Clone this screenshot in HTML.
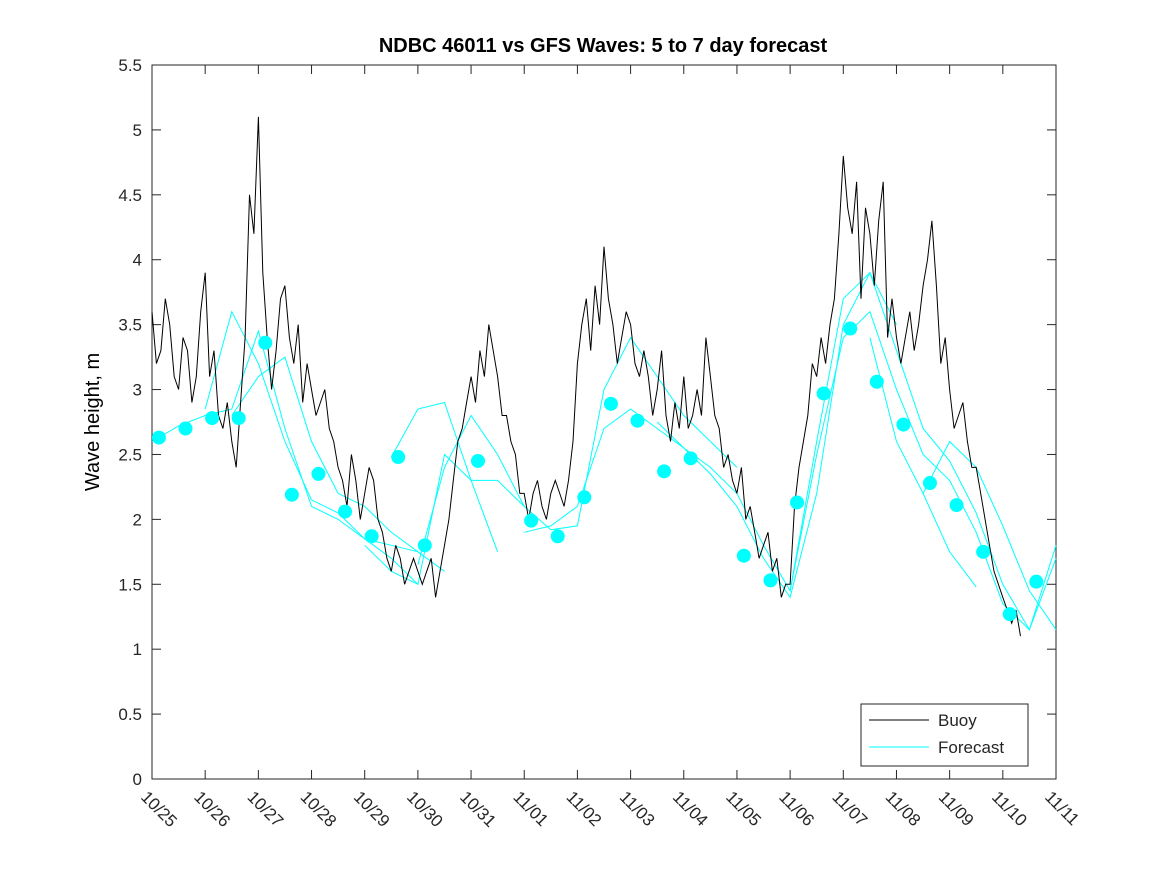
<!DOCTYPE html>
<html><head><meta charset="utf-8">
<style>
html,body{margin:0;padding:0;background:#fff;}
svg{display:block;font-family:"Liberation Sans",sans-serif;}
</style></head>
<body>
<svg id="chart" width="1167" height="875">
<rect x="0" y="0" width="1167" height="875" fill="#fff"/>
<text x="603" y="52" text-anchor="middle" font-size="20" font-weight="bold">NDBC 46011 vs GFS Waves: 5 to 7 day forecast</text>
<text transform="translate(99,422) rotate(-90)" text-anchor="middle" font-size="20">Wave height, m</text>
<g id="plot"></g>
</svg>
<script>
const xLabels=["10/25","10/26","10/27","10/28","10/29","10/30","10/31","11/01","11/02","11/03","11/04","11/05","11/06","11/07","11/08","11/09","11/10","11/11"];
const yTicks=[0,0.5,1,1.5,2,2.5,3,3.5,4,4.5,5,5.5];
const buoyStep=1/12;
const buoy=[3.6,3.2,3.3,3.7,3.5,3.1,3.0,3.4,3.3,2.9,3.1,3.6,3.9,3.1,3.3,2.8,2.7,2.9,2.6,2.4,2.9,3.4,4.5,4.2,5.1,3.9,3.4,3.0,3.3,3.7,3.8,3.4,3.2,3.5,2.9,3.2,3.0,2.8,2.9,3.0,2.7,2.6,2.4,2.3,2.1,2.5,2.3,2.0,2.2,2.4,2.3,2.0,1.9,1.7,1.6,1.8,1.7,1.5,1.6,1.7,1.6,1.5,1.6,1.7,1.4,1.6,1.8,2.0,2.3,2.6,2.7,2.9,3.1,2.9,3.3,3.1,3.5,3.3,3.1,2.8,2.8,2.6,2.5,2.2,2.2,2.0,2.2,2.3,2.1,2.0,2.2,2.3,2.2,2.1,2.3,2.6,3.2,3.5,3.7,3.3,3.8,3.5,4.1,3.7,3.5,3.2,3.4,3.6,3.5,3.2,3.1,3.3,3.1,2.8,3.0,3.3,2.8,2.6,2.9,2.7,3.1,2.7,2.8,3.0,2.8,3.4,3.1,2.8,2.7,2.4,2.5,2.3,2.2,2.4,2.0,2.1,1.9,1.7,1.8,1.9,1.6,1.7,1.4,1.5,1.5,2.1,2.4,2.6,2.8,3.2,3.1,3.4,3.2,3.5,3.7,4.2,4.8,4.4,4.2,4.6,3.7,4.4,4.2,3.8,4.3,4.6,3.4,3.7,3.4,3.2,3.4,3.6,3.3,3.5,3.8,4.0,4.3,3.8,3.2,3.4,3.0,2.7,2.8,2.9,2.6,2.4,2.4,2.2,2.0,1.8,1.6,1.5,1.4,1.3,1.2,1.3,1.1];
const dotStart=0.13;
const dots=[2.63,2.70,2.78,2.78,3.36,2.19,2.35,2.06,1.87,2.48,1.80,null,2.45,null,1.99,1.87,2.17,2.89,2.76,2.37,2.47,null,1.72,1.53,2.13,2.97,3.47,3.06,2.73,2.28,2.11,1.75,1.27,1.52];
const fcStep=0.5;
const fcStarts=[0,1.0,1.5,4.5,4.0,5.0,7.0,9.5,12.0,13.5,14.5];
const fcA=[2.6,2.72,2.8,2.85,3.45,2.7,2.1,2.0,1.85,1.7,1.5];
const fcB=[2.85,3.6,3.2,2.6,2.15,2.05,1.85,1.8,1.75];
const fcC=[2.8,3.1,3.25,2.6,2.2,2.1,1.9,1.75,1.6];
const fcD=[2.48,2.85,2.9,2.3,1.75];
const fcE=[1.8,1.6,1.5,2.5,2.3,2.3,2.1];
const fcF=[1.65,2.4,2.8,2.5,2.1,1.92,1.95,3.0,3.4,3.1,2.8,2.6,2.4];
const fcG=[1.9,1.95,2.1,2.7,2.85,2.7,2.55,2.35,2.1,1.7,1.4,2.2,3.5,3.9,3.3,2.7,2.45,2.05,1.5,1.15,1.8];
const fcH=[2.75,2.55,2.4,2.2,1.8,1.45,2.5,3.4,3.6,3.0,2.5,2.3,1.9,1.35,1.15,1.7];
const fcI=[1.45,2.6,3.7,3.9,3.5];
const fcJ=[3.4,2.6,2.2,1.75,1.48];
const fcK=[2.2,2.6,2.4,1.95,1.45,1.15,1.5,2.2];
const fcs=[fcA,fcB,fcC,fcD,fcE,fcF,fcG,fcH,fcI,fcJ,fcK];

const L=152,R=1056,T=65,B=779,XMAX=17,YMAX=5.5;
const xs=d=>L+(R-L)*d/XMAX;
const ys=v=>B-(B-T)*v/YMAX;
const NS="http://www.w3.org/2000/svg";
const g=document.getElementById('plot');
function mk(t,a){const e=document.createElementNS(NS,t);for(const k in a)e.setAttribute(k,a[k]);g.appendChild(e);return e;}

const box=mk('rect',{x:L,y:T,width:R-L,height:B-T,fill:'#fff',stroke:'#262626','stroke-width':1});



yTicks.forEach(v=>{
  const y=ys(v);
  const t1=mk('line',{x1:L,x2:L+9,y1:y,y2:y,stroke:'#262626'});
  
  
  const t2=mk('line',{x1:R,x2:R-9,y1:y,y2:y,stroke:'#262626'});
  
  
  const tx=mk('text',{x:142,y:y+6,'text-anchor':'end','font-size':17,fill:'#262626'});
  tx.textContent=String(v);
  
  
});
xLabels.forEach((s,i)=>{
  const x=xs(i);
  const t1=mk('line',{x1:x,x2:x,y1:B,y2:B-9,stroke:'#262626'});
  
  
  const t2=mk('line',{x1:x,x2:x,y1:T,y2:T+9,stroke:'#262626'});
  
  
  const tx=mk('text',{transform:`translate(${x-12},${B+19}) rotate(45)`,'font-size':17,fill:'#262626'});
  tx.textContent=s;
  
  
});

fcs.forEach((arr,k)=>{
  const pts=arr.map((v,i)=>[fcStarts[k]+i*fcStep,v]).filter(p=>p[0]<=XMAX);
  const pl=mk('polyline',{points:pts.map(p=>xs(p[0]).toFixed(1)+','+ys(p[1]).toFixed(1)).join(' '),fill:'none',stroke:'#00ffff','stroke-width':1});
  
  
});

const bl=mk('polyline',{points:buoy.map((v,i)=>xs(i*buoyStep).toFixed(1)+','+ys(v).toFixed(1)).join(' '),fill:'none',stroke:'#000','stroke-width':1});



dots.forEach((v,i)=>{
  if(v===null)return;
  const c=mk('circle',{cx:xs(dotStart+i*0.5),cy:ys(v),r:7,fill:'#00ffff'});
  
  
});

const lg=mk('rect',{x:861,y:704,width:167,height:62,fill:'#fff',stroke:'#262626'});


const l1=mk('line',{x1:869,x2:929,y1:720,y2:720,stroke:'#000'});


const lt1=mk('text',{x:938,y:726,'font-size':17,fill:'#262626'});
lt1.textContent='Buoy';


const l2=mk('line',{x1:869,x2:929,y1:747,y2:747,stroke:'#00ffff'});


const lt2=mk('text',{x:938,y:753,'font-size':17,fill:'#262626'});
lt2.textContent='Forecast';


</script>
</body></html>
